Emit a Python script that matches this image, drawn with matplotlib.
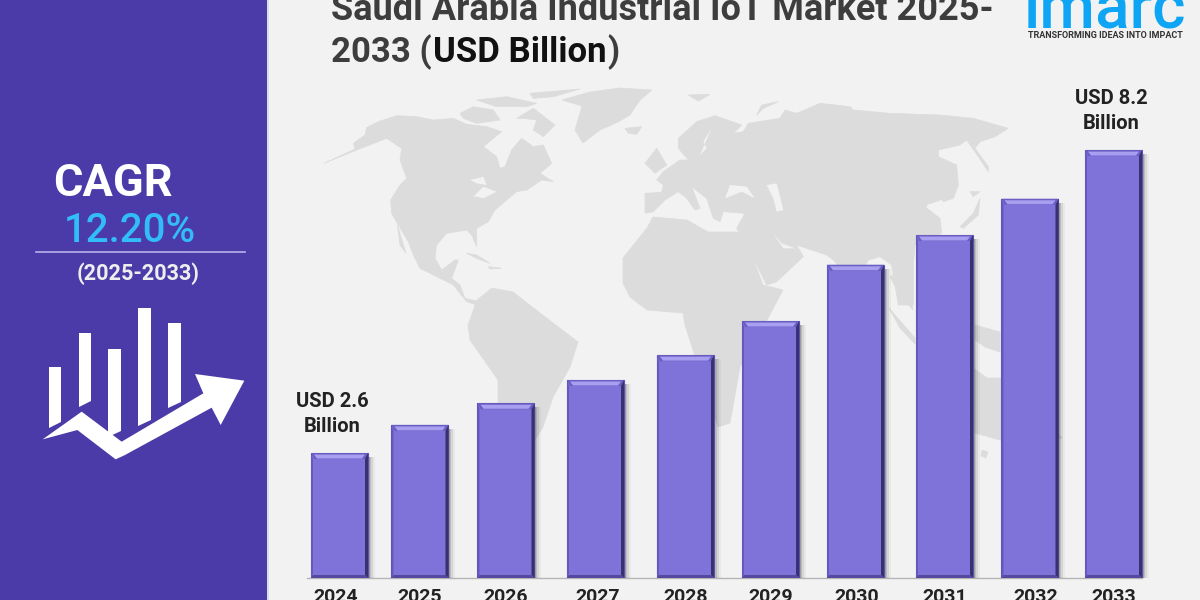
"""
Saudi Arabia Industrial IoT market infographic, bars over a faint world map.
"""

import numpy as np
import matplotlib
matplotlib.use("Agg")
import matplotlib.pyplot as plt
from matplotlib.patches import Polygon, Rectangle

plt.rcParams['font.family'] = ['Roboto', 'DejaVu Sans']

# Data
years = [2024, 2025, 2026, 2027, 2028, 2029, 2030, 2031, 2032, 2033]
values = [2.6, 3.12, 3.52, 3.95, 4.41, 5.04, 6.08, 6.63, 7.30, 8.2]
first_label = "USD 2.6\nBillion"
last_label = "USD 8.2\nBillion"
title_line1 = "Saudi Arabia Industrial IoT Market 2025-"
title_parts = [("2033 (", "#3d3d3d"), ("USD Billion", "#111111"), (")", "#3d3d3d")]
cagr_text = "12.20%"
period_text = "(2025-2033)"

# Colours
BG = "#f2f2f2"
PANEL = "#4b3ba9"
BAR = "#7f72d9"
MAP = "#dcdcdc"

# the bars are not quite evenly spaced in the original (years)
NUDGE = [0, -0.064, -0.064, -0.023, 0.023, 0.012, 0, 0.035, 0.029, 0]
LABEL_NUDGE = [-0.04, 0, 0, 0.02, 0, 0, 0.01, 0, 0.07, 0]

W, H = 1200, 600
fig = plt.figure(figsize=(12, 6), dpi=100, facecolor=BG)

# Background layer in pixel coordinates
bg = fig.add_axes([0, 0, 1, 1])
bg.set_xlim(0, W)
bg.set_ylim(H, 0)
bg.axis("off")


def crop(ox, oy, points):
    return [(ox + x / 3, oy + y / 3) for x, y in points]


# west of the map, crop starts at (320, 85)
NA = (320, 85)
north_america = [(12, 235), (105, 192), (100, 175), (135, 150), (140, 128), (175, 110), (230, 92), (290, 95),
                 (340, 105), (400, 100), (440, 118), (500, 125), (545, 140), (490, 185), (530, 215), (540, 250),
                 (555, 245), (575, 195), (605, 160), (640, 185), (670, 180), (695, 235), (660, 265), (700, 290),
                 (665, 285), (620, 315), (590, 320), (560, 345), (525, 375), (505, 410), (470, 430), (470, 485),
                 (455, 450), (440, 435), (380, 445), (350, 480), (345, 520), (365, 555), (405, 525), (415, 525),
                 (395, 580), (420, 600), (435, 640), (480, 650), (470, 660), (440, 650), (400, 600), (350, 575),
                 (300, 550), (280, 510), (265, 470), (235, 420), (215, 385), (212, 345), (240, 300), (260, 280),
                 (240, 225), (245, 190), (200, 160), (110, 195)]
north_parts = [[(232, 420), (258, 505), (240, 480)],
               [(420, 85), (460, 65), (520, 75), (540, 105), (470, 115), (430, 100)],
               [(470, 45), (560, 35), (650, 55), (620, 65), (530, 65)],
               [(590, 100), (640, 70), (705, 120), (670, 155), (640, 135), (650, 105), (610, 100)],
               [(630, 25), (780, 12), (700, 35), (640, 40)],
               [(440, 505), (470, 510), (510, 535), (470, 520)],
               [(505, 545), (545, 550), (510, 552)]]
great_lakes = [[(450, 285), (490, 275), (500, 300), (470, 295)],
               [(460, 335), (490, 305), (530, 320), (490, 340), (470, 335)]]

# Eurasia and the islands near it, crop starts at (620, 85)
EU = (620, 85)
eurasia = [(75, 325), (125, 322), (130, 300), (110, 285), (130, 260), (180, 225), (205, 225), (175, 190),
           (175, 160), (230, 110), (285, 92), (365, 120), (340, 145), (370, 140), (385, 115), (480, 100),
           (495, 75), (530, 85), (600, 55), (690, 65), (700, 75), (810, 85), (960, 90), (1060, 100),
           (1165, 130), (1125, 155), (1080, 170), (1065, 190), (1105, 245), (1105, 260), (1075, 215),
           (1040, 165), (1020, 180), (955, 195), (955, 215), (1010, 240), (1015, 300), (1000, 340), (970, 350),
           (915, 365), (960, 400), (965, 445), (885, 480), (880, 540), (880, 660), (835, 660), (815, 540),
           (780, 515), (745, 525), (700, 600), (640, 525), (620, 510), (530, 480), (550, 515), (470, 590),
           (440, 600), (365, 450), (350, 430), (375, 385), (310, 380), (300, 410), (280, 400), (260, 340),
           (215, 305), (240, 370), (225, 375), (200, 340), (175, 320), (135, 345), (100, 380), (75, 385)]
eu_parts = [[(75, 235), (110, 190), (140, 240), (105, 265)],
            [(15, 130), (65, 125), (50, 148), (25, 145)],
            [(410, 90), (425, 60), (475, 50), (430, 70)],
            [(205, 30), (270, 28), (235, 48)],
            [(1020, 425), (1060, 385), (1080, 340), (1075, 390), (1030, 430)],
            [(1050, 320), (1080, 320), (1060, 335)]]
eu_seas = [[(315, 340), (330, 300), (380, 305), (405, 340), (365, 320)],
           [(440, 300), (470, 295), (490, 375), (470, 380), (460, 340)],
           [(460, 445), (490, 490), (525, 490), (485, 475)],
           [(240, 210), (275, 130), (250, 170), (260, 190)],
           [(920, 360), (965, 345), (1000, 400), (985, 395), (960, 365), (945, 385)]]

# the rest is already in figure pixels
greenland = [(562, 100), (590, 92), (620, 88), (652, 90), (640, 100), (630, 115), (618, 122), (600, 130),
             (583, 143), (575, 130), (582, 106)]
africa = [(623, 258), (647, 228), (653, 217), (687, 220), (708, 232), (743, 232), (763, 285), (783, 290),
          (767, 320), (740, 367), (730, 423), (718, 427), (693, 350), (685, 325), (683, 313), (647, 310),
          (630, 297), (623, 283)]
south_america = [(477, 300), (492, 288), (513, 292), (540, 313), (578, 342), (570, 367), (553, 397), (543, 427),
                 (535, 440), (530, 470), (505, 470), (498, 402), (498, 380), (470, 340), (468, 325)]
malaya = [(890, 277), (905, 265), (913, 310), (900, 295)]
sumatra = [(889, 308), (915, 338), (915, 344), (900, 328)]
new_guinea = [(975, 325), (1000, 332), (1000, 352), (985, 347), (975, 340)]
australia = [(973, 368), (987, 378), (1002, 378), (1030, 400), (1062, 438), (1040, 445), (1000, 440), (975, 433)]
tasmania = [(982, 450), (988, 452), (986, 458), (981, 456)]

land = [crop(*NA, north_america), crop(*EU, eurasia), greenland, africa, south_america, malaya, sumatra,
        new_guinea, australia, tasmania]
land += [crop(*NA, p) for p in north_parts] + [crop(*EU, p) for p in eu_parts]
for shape in land:
    bg.add_patch(Polygon(shape, closed=True, fc=MAP, ec=MAP, lw=0.5, zorder=1))
seas = [crop(*NA, p) for p in great_lakes] + [crop(*EU, p) for p in eu_seas]
for shape in seas:
    bg.add_patch(Polygon(shape, closed=True, fc=BG, ec="none", zorder=2))

# Left panel
bg.add_patch(Rectangle((0, 0), 267, H, fc=PANEL, ec="none", zorder=3))
bg.add_patch(Rectangle((267, 0), 2, H, fc="#dcd9ee", ec="none", zorder=3))
bg.text(112.5, 184, "CAGR", color="white", fontsize=32.5, fontweight="bold", ha="center", va="center", zorder=5)
bg.text(130, 231, cagr_text, color="#33bdf8", fontsize=29, fontweight="medium", ha="center", va="center", zorder=5)
bg.plot([36, 245], [252, 252], color="#b9b2ea", lw=1.2, zorder=5)
bg.text(138.5, 274, period_text, color="#eeeeee", fontsize=15.6, fontweight="bold", ha="center", va="center", zorder=5)

# Growth icon
icon_bars = [(49, 61, 367, 428), (79, 91, 333, 407), (108, 121, 349, 437), (138, 151, 308, 426), (168, 181, 323, 408)]
for x0, x1, top, bottom in icon_bars:
    bg.add_patch(Polygon([(x0, top), (x1, top), (x1, bottom - 6), (x0, bottom)], closed=True,
                         fc="white", ec="none", zorder=5))
arrow = [(128, 898), (245, 815), (365, 905), (610, 760), (585, 702), (733, 722), (662, 855),
         (635, 803), (375, 945), (347, 958), (232, 870)]
bg.add_patch(Polygon(crop(0, 140, arrow), closed=True, fc="white", ec="none", zorder=5))

# Title and logo
bg.text(331, 20, title_line1, color="#3d3d3d", fontsize=26, fontweight="bold", ha="left", va="baseline", zorder=5)
renderer = fig.canvas.get_renderer()
cursor = 331
for part, colour in title_parts:
    t = bg.text(cursor, 62, part, color=colour, fontsize=25, fontweight="bold", ha="left", va="baseline", zorder=5)
    cursor = t.get_window_extent(renderer).x1 + 1
bg.text(1104, 27, "imarc", color="#0ea5f5", fontsize=46, fontweight="medium", ha="center", va="baseline", zorder=5)
bg.text(1105, 35.5, "TRANSFORMING IDEAS INTO IMPACT", color="#333333", fontsize=6.5, fontweight="bold",
        ha="center", va="center", zorder=5)

# Bars
ax = fig.add_axes([300 / W, (H - 578) / H, 860 / W, 480 / H])
ax.patch.set_alpha(0)
ax.set_xlim(2024 - 39.5 / 86, 2024 + (860 - 39.5) / 86)
ax.set_ylim(0.29, 0.29 + 480 / 54.1)
px_x = 1 / 86
px_y = 1 / 54.1
positions = np.array(years) + np.array(NUDGE)
bars = ax.bar(positions, values, width=57 / 86, color=BAR, edgecolor="#5b4fb4", linewidth=0.8, zorder=4)

base = ax.get_ylim()[0]
for bar in bars:
    x0, x1 = bar.get_x(), bar.get_x() + bar.get_width()
    top = bar.get_height()
    # soft drop shadow
    for spread, alpha in [(7, 0.05), (5, 0.10), (3, 0.15), (1.5, 0.2)]:
        ax.add_patch(Rectangle((x1, base), spread * px_x, top - base - 4 * px_y, fc="#333333",
                               alpha=alpha, ec="none", zorder=3))
    side = 3 * px_x
    ax.add_patch(Polygon([(x0, top), (x1, top), (x1 - side, top - 6 * px_y), (x0 + side, top - 6 * px_y)],
                         closed=True, fc="#6a5dc4", ec="none", zorder=5))
    ax.add_patch(Polygon([(x0 + side, top - 1.5 * px_y), (x1 - side, top - 1.5 * px_y),
                          (x1 - 2 * side, top - 5.5 * px_y), (x0 + 2 * side, top - 5.5 * px_y)],
                         closed=True, fc="#a99ff0", ec="none", zorder=6))
    ax.add_patch(Polygon([(x1, top), (x1, base), (x1 - side, base + 3 * px_y), (x1 - side, top - 6 * px_y)],
                         closed=True, fc="#38316f", ec="none", zorder=5))
    ax.add_patch(Polygon([(x0, top), (x0, base), (x0 + 2 * px_x, base + 3 * px_y), (x0 + 2 * px_x, top - 6 * px_y)],
                         closed=True, fc="#6558bf", ec="none", zorder=5))
    ax.add_patch(Polygon([(x0, base), (x1, base), (x1 - side, base + 3 * px_y), (x0 + 2 * px_x, base + 3 * px_y)],
                         closed=True, fc="#55499f", ec="none", zorder=5))

for side_name in ["top", "left", "right"]:
    ax.spines[side_name].set_visible(False)
# baseline stops at the last bar
ax.spines["bottom"].set_color("#b5b5b5")
ax.spines["bottom"].set_linewidth(1)
ax.spines["bottom"].set_bounds(ax.get_xlim()[0] + 7 * px_x, bars[-1].get_x() + bars[-1].get_width())
ax.set_yticks([])
ax.set_xticks(positions + np.array(LABEL_NUDGE))
ax.set_xticklabels(years, fontsize=14, fontweight="bold", color="#222222")
ax.tick_params(axis="x", length=0, pad=7)

ax.annotate(first_label, (positions[0], values[0]), xytext=(-7, 17), textcoords="offset pixels", ha="center",
            va="bottom", fontsize=14.5, fontweight="bold", color="#222222", linespacing=1.38)
ax.annotate(last_label, (positions[-1], values[-1]), xytext=(-2, 17), textcoords="offset pixels", ha="center",
            va="bottom", fontsize=14.5, fontweight="bold", color="#222222", linespacing=1.38)

fig.savefig("out.png", dpi=100, facecolor=BG)
